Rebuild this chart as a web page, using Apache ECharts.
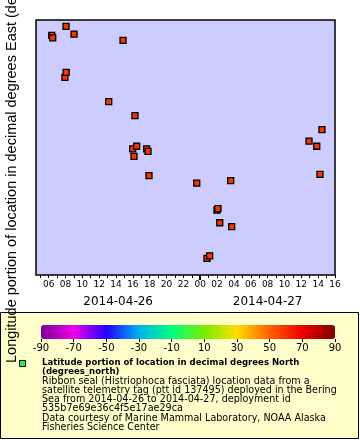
<!DOCTYPE html>
<html><head><meta charset="utf-8">
<script src="https://cdn.jsdelivr.net/npm/echarts@6/dist/echarts.min.js"></script>
<style>html,body{margin:0;padding:0;background:#fff}#c{width:360px;height:440px}</style>
</head><body><div id="c"></div>
<script>
// Observation times (UTC)
const times = ['2014-04-26 06:22','2014-04-26 06:29','2014-04-26 07:56','2014-04-26 08:04','2014-04-26 08:05',
  '2014-04-26 09:01','2014-04-26 13:08','2014-04-26 14:50','2014-04-26 15:59','2014-04-26 16:08',
  '2014-04-26 16:15','2014-04-26 16:27','2014-04-26 17:38','2014-04-26 17:48','2014-04-26 17:55',
  '2014-04-26 23:35','2014-04-27 00:48','2014-04-27 01:07','2014-04-27 01:59','2014-04-27 02:06',
  '2014-04-27 02:19','2014-04-27 03:37','2014-04-27 03:44','2014-04-27 12:55','2014-04-27 13:50',
  '2014-04-27 14:13','2014-04-27 14:27'];
// Longitude (degrees_east), estimated
const longitudes = [-172.12,-172.14,-172.45,-172.05,-172.41,
  -172.11,-172.64,-172.16,-173.01,-173.07,
  -172.75,-172.99,-173.01,-173.03,-173.22,
  -173.28,-173.87,-173.85,-173.49,-173.48,
  -173.59,-173.26,-173.62,-172.95,-172.99,
  -173.21,-172.86];
// Latitude (degrees_north)
const latitudes = [58.6,58.6,58.7,58.6,58.7,58.6,58.8,58.6,59.0,59.0,58.9,59.0,59.0,59.0,59.1,
  59.1,59.4,59.4,59.3,59.3,59.3,59.2,59.3,59.0,59.0,59.1,58.9];
const xRange = ['2014-04-26 04:30','2014-04-27 16:00'];
const hourTicks = [5,6,7,8,9,10,11,12,13,14,15,16,17,18,19,20,21,22,23,24,25,26,27,28,29,30,31,32,33,34,35,36,37,38,39,40];
const hourLabels = [6,8,10,12,14,16,18,20,22,24,26,28,30,32,34,36,38,40];
const dayMarks = [24];
const dateLabelPos = [14.25, 32];
const dateLabels = ['2014-04-26','2014-04-27'];
const yRange = [-174, -172];
const cbTicks = [-90,-70,-50,-30,-10,10,30,50,70,90];
const cbColors = ['#800090','#ee00ee','#2200ff','#00b0f0','#00ff80','#77ee00','#ffdd00','#ff6000','#ee0000','#800000'];

const t0 = Date.parse('2014-04-26T00:00:00Z');
const toH = s => (Date.parse(s.replace(' ','T')+':00Z') - t0)/3600000;
const pts = times.map((t,i)=>[toH(t), longitudes[i], latitudes[i]]);
const pad = n => String(n).padStart(2,'0');

const chart = echarts.init(document.getElementById('c'), null, {renderer:'canvas'});
const F = 'DejaVu Sans';
const NF = '9.6px "DejaVu Sans"';
const BF = 'bold 9.5px "DejaVu Sans Condensed", "DejaVu Sans"';
chart.setOption({
  animation:false,
  grid:[
    {left:36, top:20, width:299, height:255, show:true, backgroundColor:'#ccccff', borderColor:'#000', borderWidth:1.5, z:3},
    {left:41, top:325, width:294, height:14, show:false, z:10}
  ],
  xAxis:[
    {type:'value', gridIndex:0, min:toH(xRange[0]), max:toH(xRange[1]), splitLine:{show:false},
     axisLine:{show:false},
     axisTick:{show:true, length:3, inside:false, customValues:hourTicks, lineStyle:{color:'#000',width:1}},
     axisLabel:{show:true, customValues:hourLabels, margin:5, fontFamily:F, fontSize:9, color:'#000',
       formatter:v=>pad(Math.round(v)%24)}},
    {type:'value', gridIndex:0, min:toH(xRange[0]), max:toH(xRange[1]), splitLine:{show:false},
     axisLine:{show:false}, position:'bottom',
     axisTick:{show:true, length:5, customValues:dayMarks, lineStyle:{color:'#000',width:2}},
     axisLabel:{show:false}},
    {type:'value', gridIndex:0, min:toH(xRange[0]), max:toH(xRange[1]), splitLine:{show:false},
     axisLine:{show:false}, position:'bottom',
     axisTick:{show:false},
     axisLabel:{show:true, customValues:dateLabelPos, margin:21, fontFamily:F, fontSize:12, color:'#000',
       formatter:v=>dateLabels[dateLabelPos.indexOf(v)]}},
    {type:'value', gridIndex:1, min:-90, max:90, splitLine:{show:false}, axisLine:{show:false}, z:15,
     axisTick:{show:true, length:3, customValues:cbTicks, lineStyle:{color:'#000'}},
     axisLabel:{show:true, customValues:cbTicks, margin:4, fontFamily:F, fontSize:10, color:'#000'}}
  ],
  yAxis:[
    {type:'value', gridIndex:0, min:yRange[0], max:yRange[1], axisLabel:{show:false}, axisTick:{show:false},
     axisLine:{show:false}, splitLine:{show:false}},
    {type:'value', gridIndex:1, min:0, max:1, show:false}
  ],
  visualMap:{
    type:'continuous', seriesIndex:0, dimension:2, min:-90, max:90, orient:'horizontal',
    left:41, top:325, itemWidth:14, itemHeight:294, padding:0, calculable:false, text:null,
    showLabel:false, hoverLink:false, realtime:false,
    inRange:{color:cbColors}, z:10
  },
  graphic:[
    {type:'rect', z:-10, shape:{x:0.5,y:312.5,width:358,height:126}, style:{fill:'#ffffcc', stroke:'#000', lineWidth:1}},
    {type:'rect', z:20, shape:{x:19.5,y:360.5,width:6,height:6}, style:{fill:'#33ee33', stroke:'#000', lineWidth:1}},
    {type:'text', z:20, x:42, y:363, style:{text:'Latitude portion of location in decimal degrees North', font:BF, fill:'#000', verticalAlign:'middle'}},
    {type:'text', z:20, x:42, y:372, style:{text:'(degrees_north)', font:BF, fill:'#000', verticalAlign:'middle'}},
    {type:'text', z:20, x:42, y:381.5, style:{text:'Ribbon seal (Histriophoca fasciata) location data from a', font:NF, fill:'#000', verticalAlign:'middle'}},
    {type:'text', z:20, x:42, y:390.5, style:{text:'satellite telemetry tag (ptt id 137495) deployed in the Bering', font:NF, fill:'#000', verticalAlign:'middle'}},
    {type:'text', z:20, x:42, y:399.5, style:{text:'Sea from 2014-04-26 to 2014-04-27, deployment id', font:NF, fill:'#000', verticalAlign:'middle'}},
    {type:'text', z:20, x:42, y:408.5, style:{text:'535b7e69e36c4f5e17ae29ca', font:NF, fill:'#000', verticalAlign:'middle'}},
    {type:'text', z:20, x:42, y:418, style:{text:'Data courtesy of Marine Mammal Laboratory, NOAA Alaska', font:NF, fill:'#000', verticalAlign:'middle'}},
    {type:'text', z:20, x:42, y:427, style:{text:'Fisheries Science Center', font:NF, fill:'#000', verticalAlign:'middle'}},
    {type:'text', z:30, x:12, y:363, rotation:Math.PI/2, style:{text:'Longitude portion of location in decimal degrees East (degrees_east)', font:'14.5px "Liberation Sans"', fill:'#000', align:'left', verticalAlign:'middle'}}
  ],
  series:[
    {type:'scatter', xAxisIndex:0, yAxisIndex:0, data:pts, symbol:'rect', symbolSize:6,
     itemStyle:{borderColor:'#000', borderWidth:1.3, opacity:1}, z:5}
  ]
});
</script></body></html>
